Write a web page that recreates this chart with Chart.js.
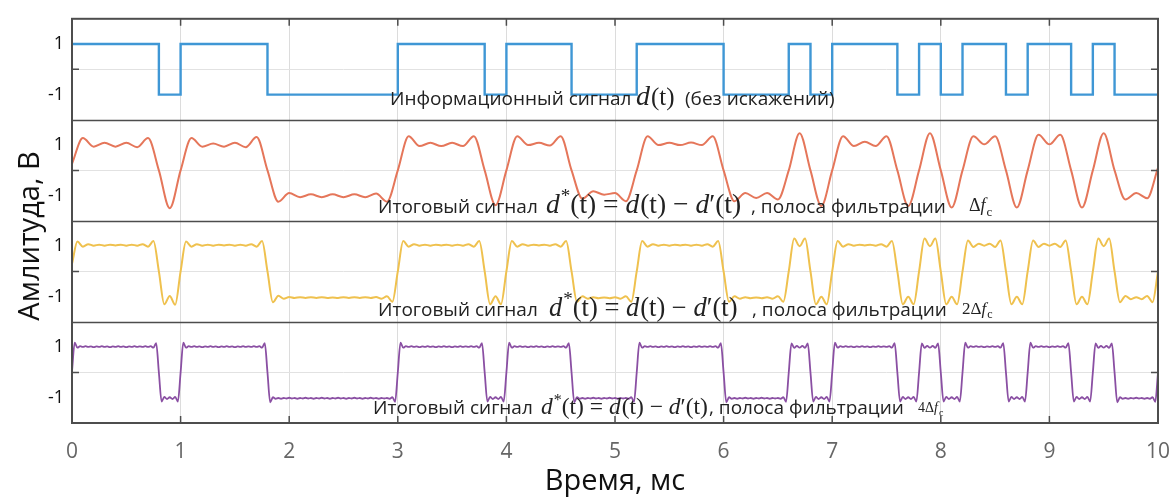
<!DOCTYPE html>
<html lang="ru">
<head>
  <meta charset="UTF-8">
  <title>Информационный и итоговые сигналы</title>
  <script src="https://cdn.jsdelivr.net/npm/chart.js"></script>
  <style>
    body { margin: 0; background: #fff; }
    #wrap { width: 1175px; height: 502px; }
  </style>
</head>
<body>
  <div id="wrap"><canvas id="grafico"></canvas></div>

  <script>
    // Информационный сигнал d(t): один бит = 0.2 мс
    const bitDur = 0.2;
    const bits = [
      1, 1, 1, 1, -1, 1, 1, 1, 1,
      -1, -1, -1, -1, -1, -1,
      1, 1, 1, 1, -1, 1, 1, 1,
      -1, -1, -1, 1, 1, 1, 1,
      -1, -1, -1, 1, -1, 1, 1, 1,
      -1, 1, -1, 1, 1, -1, 1, 1, -1, 1, -1, -1
    ];

    // Итоговый сигнал, полоса Δfc (отсчёты через 0.1 мс)
    const stepOrange = 0.1;
    const orange = [
      0.26, 1.28, 0.94, 1.09, 0.94, 1.09, 0.92, 1.28, 0,
      -1.5, 0,
      1.28, 0.94, 1.06, 0.94, 1.09, 0.92, 1.32, 0,
      -1.24, -0.9, -1.06, -0.95, -1.06, -0.95, -1.06, -0.95, -1.06, -0.92, -1.24, 0,
      1.35, 0.96, 1.09, 0.96, 1.09, 0.96, 1.35, 0,
      -1.38, 0,
      1.35, 1.0, 1.09, 0.98, 1.35, 0,
      -1.12, -0.83, -0.96, -0.9, -1.22, 0,
      1.35, 1.0, 1.09, 1.0, 1.1, 1.0, 1.35, 0,
      -1.22, -0.9, -1.09, -0.9, -1.15, 0,
      1.47, 0,
      -1.41, 0,
      1.35, 0.96, 1.13, 0.96, 1.35, 0,
      -1.41, 0,
      1.47, 0,
      -1.47, 0,
      1.35, 1.03, 1.35, 0,
      -1.47, 0,
      1.41, 1.03, 1.41, 0,
      -1.47, 0,
      1.47, 0,
      -1.15, -0.9, -1.1, 0.1
    ];

    // Итоговый сигнал, полоса 2Δfc (отсчёты через 0.05 мс)
    const stepYellow = 0.05;
    const yellow = [
      0.3,
      1.18, 0.98, 1.08, 1.02, 1.06, 1.02, 1.06, 1.03, 1.06, 1.02, 1.06, 1.02, 1.08, 0.98, 1.2, 0,
      -1.3, -0.97, -1.32, 0,
      1.18, 0.98, 1.08, 1.02, 1.06, 1.02, 1.06, 1.03, 1.06, 1.02, 1.06, 1.02, 1.08, 0.98, 1.2, 0,
      -1.22, -0.96, -1.08, -1.01, -1.05, -1.02, -1.05, -1.02, -1.05, -1.02, -1.05, -1.03,
      -1.05, -1.02, -1.05, -1.02, -1.05, -1.02, -1.05, -1.01, -1.08, -0.98, -1.2, 0,
      1.2, 0.98, 1.08, 1.02, 1.06, 1.02, 1.06, 1.03, 1.06, 1.02, 1.06, 1.02, 1.08, 0.98, 1.2, 0,
      -1.3, -0.98, -1.3, 0,
      1.2, 0.98, 1.08, 1.02, 1.06, 1.03, 1.06, 1.02, 1.08, 0.98, 1.2, 0,
      -1.2, -0.98, -1.08, -1.02, -1.06, -1.03, -1.06, -1.02, -1.08, -0.98, -1.2, 0,
      1.2, 0.98, 1.08, 1.02, 1.06, 1.02, 1.06, 1.03, 1.06, 1.02, 1.06, 1.02, 1.08, 0.98, 1.2, 0,
      -1.2, -0.98, -1.08, -1.02, -1.06, -1.03, -1.06, -1.02, -1.08, -0.98, -1.2, 0,
      1.3, 1.0, 1.3, 0,
      -1.3, -1.0, -1.3, 0,
      1.2, 0.98, 1.08, 1.02, 1.06, 1.03, 1.06, 1.02, 1.08, 0.98, 1.2, 0,
      -1.3, -1.0, -1.3, 0,
      1.3, 1.0, 1.3, 0,
      -1.3, -1.0, -1.3, 0,
      1.22, 0.97, 1.1, 1.02, 1.1, 0.97, 1.22, 0,
      -1.3, -1.0, -1.3, 0,
      1.22, 0.97, 1.1, 1.02, 1.1, 0.97, 1.22, 0,
      -1.3, -1.0, -1.3, 0,
      1.3, 1.0, 1.3, 0,
      -1.22, -0.97, -1.1, -1.02, -1.1, -0.97, -1.22, 0
    ];

    // Итоговый сигнал, полоса 4Δfc (отсчёты через 0.025 мс)
    const stepPurple = 0.025;
    const purple = [
      0.05,
      1.18, 0.98, 1.04, 1.01, 1.04, 1.01, 1.03, 1.0, 1.03, 1.01, 1.04, 1.01, 1.03, 1.0, 1.03, 1.01,
      1.04, 1.01, 1.03, 1.0, 1.03, 1.01, 1.04, 1.01, 1.03, 1.01, 1.04, 1.01, 1.04, 0.98, 1.16, 0,
      -1.15, -0.97, -1.05, -0.98, -1.05, -0.97, -1.15, 0,
      1.18, 0.98, 1.04, 1.01, 1.04, 1.01, 1.03, 1.0, 1.03, 1.01, 1.04, 1.01, 1.03, 1.0, 1.03, 1.01,
      1.04, 1.01, 1.03, 1.0, 1.03, 1.01, 1.04, 1.01, 1.03, 1.01, 1.04, 1.01, 1.04, 0.98, 1.16, 0,
      -1.18, -0.98,
      -1.04, -1.01, -1.04, -1.01, -1.03, -1.0, -1.03, -1.01, -1.04, -1.01,
      -1.03, -1.0, -1.03, -1.01, -1.04, -1.01, -1.03, -1.0, -1.03, -1.01,
      -1.04, -1.01, -1.03, -1.0, -1.03, -1.01, -1.04, -1.01, -1.03, -1.0,
      -1.03, -1.01, -1.04, -1.01, -1.03, -1.0, -1.03, -1.01, -1.04, -1.01,
      -1.03, -1.01, -1.04,
      -0.98, -1.16, 0,
      1.18, 0.98, 1.04, 1.01, 1.04, 1.01, 1.03, 1.0, 1.03, 1.01, 1.04, 1.01, 1.03, 1.0, 1.03, 1.01,
      1.04, 1.01, 1.03, 1.0, 1.03, 1.01, 1.04, 1.01, 1.03, 1.01, 1.04, 1.01, 1.04, 0.98, 1.16, 0,
      -1.15, -0.97, -1.05, -0.98, -1.05, -0.97, -1.15, 0,
      1.18, 0.98, 1.04, 1.01, 1.04, 1.01, 1.03, 1.0, 1.03, 1.01, 1.04, 1.01,
      1.03, 1.0, 1.03, 1.01, 1.04, 1.01, 1.03, 1.01, 1.04, 0.98, 1.16, 0,
      -1.18, -0.98, -1.04, -1.01, -1.04, -1.01, -1.03, -1.0, -1.03, -1.01, -1.04, -1.01,
      -1.03, -1.0, -1.03, -1.01, -1.04, -1.01, -1.03, -1.01, -1.04, -0.98, -1.16, 0,
      1.18, 0.98, 1.04, 1.01, 1.04, 1.01, 1.03, 1.0, 1.03, 1.01, 1.04, 1.01, 1.03, 1.0, 1.03, 1.01,
      1.04, 1.01, 1.03, 1.0, 1.03, 1.01, 1.04, 1.01, 1.03, 1.01, 1.04, 1.01, 1.04, 0.98, 1.16, 0,
      -1.18, -0.98, -1.04, -1.01, -1.04, -1.01, -1.03, -1.0, -1.03, -1.01, -1.04, -1.01,
      -1.03, -1.0, -1.03, -1.01, -1.04, -1.01, -1.03, -1.01, -1.04, -0.98, -1.16, 0,
      1.15, 0.97, 1.05, 0.98, 1.05, 0.97, 1.15, 0,
      -1.15, -0.97, -1.05, -0.98, -1.05, -0.97, -1.15, 0,
      1.18, 0.98, 1.04, 1.01, 1.04, 1.01, 1.03, 1.0, 1.03, 1.01, 1.04, 1.01,
      1.03, 1.0, 1.03, 1.01, 1.04, 1.01, 1.03, 1.01, 1.04, 0.98, 1.16, 0,
      -1.15, -0.97, -1.05, -0.98, -1.05, -0.97, -1.15, 0,
      1.15, 0.97, 1.05, 0.98, 1.05, 0.97, 1.15, 0,
      -1.15, -0.97, -1.05, -0.98, -1.05, -0.97, -1.15, 0,
      1.18, 0.98, 1.04, 1.01, 1.04, 1.01, 1.03, 1.0, 1.03, 1.01, 1.04, 1.01, 1.04, 0.98, 1.16, 0,
      -1.15, -0.97, -1.05, -0.98, -1.05, -0.97, -1.15, 0,
      1.18, 0.98, 1.04, 1.01, 1.04, 1.01, 1.03, 1.0, 1.03, 1.01, 1.04, 1.01, 1.04, 0.98, 1.16, 0,
      -1.15, -0.97, -1.05, -0.98, -1.05, -0.97, -1.15, 0,
      1.15, 0.97, 1.05, 0.98, 1.05, 0.97, 1.15, 0,
      -1.18, -0.98, -1.04, -1.01, -1.04, -1.01, -1.03, -1.0, -1.03, -1.01, -1.04, -1.01, -1.04, -0.98, -1.16, 0
    ];

    const yTickLabels = [1, -1];
    const panels = ['p1', 'p2', 'p3', 'p4'];

    const toPoints = (arr, step) => arr.map((v, i) => ({ x: +(i * step).toFixed(3), y: v }));
    const bluePts = bits.map((v, i) => ({ x: +(i * bitDur).toFixed(3), y: v }));
    bluePts.push({ x: +(bits.length * bitDur).toFixed(3), y: bits[bits.length - 1] });

    Chart.defaults.font.family = '"Open Sans", sans-serif';

    const SANS = '"Open Sans", sans-serif';
    const SERIF = '"Liberation Serif", serif';

    function drawRuns(ctx, x, y, runs) {
      runs.forEach(r => {
        ctx.font = r.f;
        ctx.fillText(r.t, x, y + (r.dy || 0));
        x += ctx.measureText(r.t).width + (r.gap || 0);
      });
      return x;
    }

    function formula(s) {
      const it = `italic ${s}px ${SERIF}`, rm = `${s}px ${SERIF}`;
      return [
        { t: 'd', f: it, gap: 1 }, { t: '*', f: `${Math.round(s * 0.7)}px ${SERIF}`, dy: -s * 0.4 },
        { t: '(t) = ', f: rm }, { t: 'd', f: it, gap: 1 }, { t: '(t) − ', f: rm },
        { t: 'd', f: it }, { t: '′(t)', f: rm }
      ];
    }

    function deltaF(s, prefix) {
      const runs = [];
      if (prefix) runs.push({ t: prefix, f: `${s}px ${SERIF}` });
      runs.push({ t: 'Δ', f: `${s}px ${SERIF}` }, { t: 'f', f: `italic ${s}px ${SERIF}`, gap: 1 },
        { t: 'c', f: `${Math.round(s * 0.7)}px ${SERIF}`, dy: s * 0.25 });
      return runs;
    }

    // рамка, деления внутрь, подписи осей и надписи на панелях
    const decor = {
      id: 'decor',
      afterDraw(chart) {
        const { ctx, chartArea: a, scales } = chart;
        ctx.save();
        ctx.strokeStyle = '#4d4d4d';
        ctx.lineWidth = 1.5;
        panels.slice(1).forEach(id => {
          const y = Math.round(scales[id].getPixelForValue(2)) + 0.5;
          ctx.beginPath(); ctx.moveTo(a.left, y); ctx.lineTo(a.right, y); ctx.stroke();
        });
        ctx.lineWidth = 2;
        ctx.strokeRect(a.left, a.top, a.right - a.left, a.bottom - a.top);

        ctx.lineWidth = 1.5;
        for (let t = 1; t < 10; t++) {
          const x = scales.x.getPixelForValue(t);
          ctx.beginPath();
          ctx.moveTo(x, a.top); ctx.lineTo(x, a.top + 7);
          ctx.moveTo(x, a.bottom); ctx.lineTo(x, a.bottom - 7);
          ctx.stroke();
        }
        panels.forEach(id => {
          const y = scales[id].getPixelForValue(0);
          ctx.beginPath();
          ctx.moveTo(a.left, y); ctx.lineTo(a.left + 7, y);
          ctx.moveTo(a.right, y); ctx.lineTo(a.right - 7, y);
          ctx.stroke();
        });

        ctx.fillStyle = '#111';
        ctx.textBaseline = 'middle';
        ctx.textAlign = 'center';
        ctx.font = `29px ${SANS}`;
        ctx.fillText('Время, мс', (a.left + a.right) / 2, 482);
        ctx.save();
        ctx.translate(31, 236);
        ctx.rotate(-Math.PI / 2);
        ctx.fillText('Амлитуда, В', 0, 0);
        ctx.restore();

        ctx.textAlign = 'left';
        ctx.textBaseline = 'alphabetic';
        ctx.fillStyle = '#222';
        const sans = `19px ${SANS}`;

        drawRuns(ctx, 390, 105, [{ t: 'Информационный сигнал', f: sans }]);
        drawRuns(ctx, 636, 105, [{ t: 'd', f: `italic 28px ${SERIF}`, gap: 1 }, { t: '(t)', f: `25px ${SERIF}` }]);
        drawRuns(ctx, 685, 105, [{ t: '(без искажений)', f: sans }]);

        drawRuns(ctx, 378, 213, [{ t: 'Итоговый сигнал', f: sans }]);
        drawRuns(ctx, 546, 213, formula(27.5));
        drawRuns(ctx, 751, 213, [{ t: ', полоса фильтрации', f: sans }]);
        drawRuns(ctx, 969, 211, deltaF(18));

        drawRuns(ctx, 378, 316, [{ t: 'Итоговый сигнал', f: sans }]);
        drawRuns(ctx, 549, 316, formula(26.5));
        drawRuns(ctx, 752, 316, [{ t: ', полоса фильтрации', f: sans }]);
        drawRuns(ctx, 962, 314, deltaF(17, '2'));

        drawRuns(ctx, 373, 414, [{ t: 'Итоговый сигнал', f: sans }]);
        drawRuns(ctx, 541, 414, formula(23.5));
        drawRuns(ctx, 709, 414, [{ t: ', полоса фильтрации', f: sans }]);
        drawRuns(ctx, 918, 412, deltaF(14, '4'));
        ctx.restore();
      }
    };

    function panelAxis() {
      return {
        type: 'linear',
        position: 'left',
        stack: 'panels',
        stackWeight: 1,
        min: -2,
        max: 2,
        afterFit: s => { s.width = 72; },
        ticks: {
          stepSize: 1,
          autoSkip: false,
          padding: 8,
          color: '#111',
          font: { size: 18 },
          callback: v => yTickLabels.includes(v) ? String(v) : ''
        },
        grid: {
          drawTicks: false,
          color: c => (c.tick && c.tick.value === 0) ? '#e2e2e2' : 'rgba(0,0,0,0)'
        },
        border: { display: false }
      };
    }

    const line = (data, axis, color, extra) => Object.assign({
      data, yAxisID: axis, borderColor: color, borderWidth: 2,
      pointRadius: 0, fill: false, cubicInterpolationMode: 'monotone'
    }, extra);

    new Chart(document.getElementById('grafico'), {
      type: 'line',
      data: {
        datasets: [
          line(bluePts, 'p1', '#3f97d5', { stepped: true, cubicInterpolationMode: 'default', borderWidth: 2.4 }),
          line(toPoints(orange, stepOrange), 'p2', '#e5765a'),
          line(toPoints(yellow, stepYellow), 'p3', '#efc14e'),
          line(toPoints(purple, stepPurple), 'p4', '#8a4fa3', { borderWidth: 1.8 })
        ]
      },
      options: {
        responsive: true,
        maintainAspectRatio: false,
        animation: false,
        layout: { padding: { top: 8, right: 17, left: 0, bottom: 0 } },
        plugins: { legend: { display: false }, tooltip: { enabled: false } },
        scales: {
          x: {
            type: 'linear',
            min: 0,
            max: 10,
            afterFit: s => { s.height = 79; s.paddingLeft = 0; s.paddingRight = 0; },
            ticks: { stepSize: 1, padding: 16, color: '#666', font: { size: 21 } },
            grid: { drawTicks: false, color: '#dcdcdc' },
            border: { display: false }
          },
          p4: panelAxis(),
          p3: panelAxis(),
          p2: panelAxis(),
          p1: panelAxis()
        }
      },
      plugins: [decor]
    });
  </script>
</body>
</html>
